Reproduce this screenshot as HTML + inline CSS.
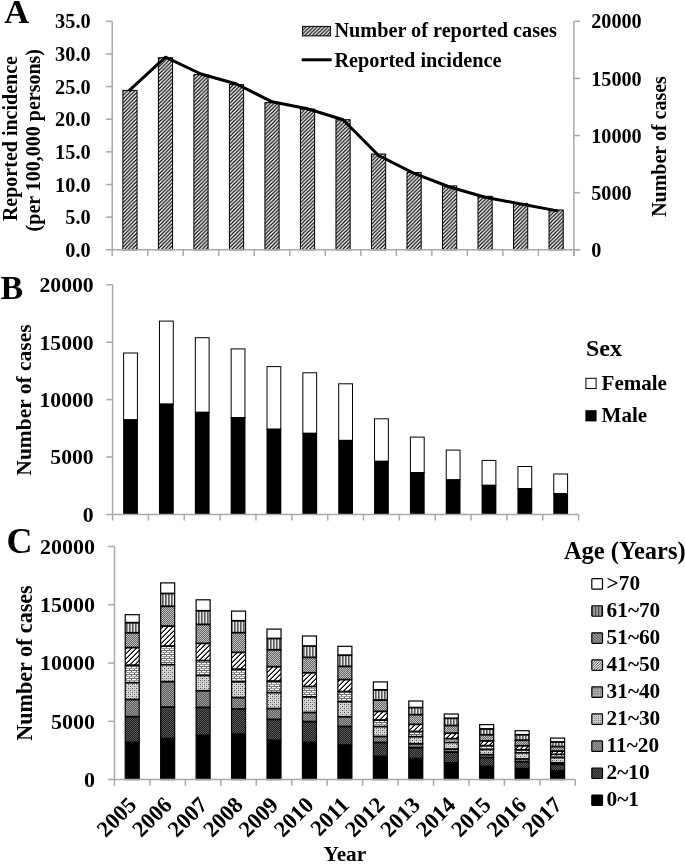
<!DOCTYPE html>
<html><head><meta charset="utf-8"><style>
html,body{margin:0;padding:0;background:#fff;width:685px;height:864px;overflow:hidden}
svg{display:block;filter:grayscale(1)}
text{font-family:"Liberation Serif", serif;font-weight:bold;fill:#000}
</style></head><body>
<svg width="685" height="864" viewBox="0 0 685 864">
<defs>
<pattern id="hatchA" patternUnits="userSpaceOnUse" width="3.7" height="3.7">
  <rect width="3.7" height="3.7" fill="#fff"/>
  <path d="M-1,1 L1,-1 M0,3.7 L3.7,0 M2.7,4.7 L4.7,2.7" stroke="#000" stroke-width="1.15"/>
</pattern>
<pattern id="p610" patternUnits="userSpaceOnUse" width="3" height="3"><rect width="3" height="3" fill="#909090"/><rect x="0" width="1" height="3" fill="#5a5a5a"/><rect x="2" width="1" height="3" fill="#e6e6e6"/></pattern>
<pattern id="p510" patternUnits="userSpaceOnUse" width="2" height="2">
  <rect width="2" height="2" fill="#666"/>
  <rect width="1" height="1" fill="#c0c0c0"/>
  <rect x="1" y="1" width="1" height="1" fill="#c0c0c0"/>
</pattern>
<pattern id="p410" patternUnits="userSpaceOnUse" width="5" height="5"><rect width="5" height="5" fill="#fff"/><rect x="0" y="3" width="1" height="1" fill="#6a6a6a"/><rect x="0" y="4" width="1" height="1" fill="#000"/><rect x="1" y="2" width="1" height="1" fill="#6a6a6a"/><rect x="1" y="3" width="1" height="1" fill="#000"/><rect x="2" y="1" width="1" height="1" fill="#6a6a6a"/><rect x="2" y="2" width="1" height="1" fill="#000"/><rect x="3" y="0" width="1" height="1" fill="#6a6a6a"/><rect x="3" y="1" width="1" height="1" fill="#000"/><rect x="4" y="0" width="1" height="1" fill="#000"/><rect x="4" y="4" width="1" height="1" fill="#6a6a6a"/></pattern>
<pattern id="p310" patternUnits="userSpaceOnUse" width="10" height="4"><rect width="10" height="4" fill="#707070"/><rect x="0" y="1" width="4" height="1" fill="#fff"/><rect x="5" y="1" width="4" height="1" fill="#fff"/><rect x="2" y="3" width="4" height="1" fill="#fff"/><rect x="7" y="3" width="3" height="1" fill="#fff"/><rect x="0" y="3" width="1" height="1" fill="#fff"/><rect x="0" y="0" width="10" height="1" fill="#9a9a9a"/></pattern>
<pattern id="p210" patternUnits="userSpaceOnUse" width="4" height="4"><rect width="4" height="4" fill="#d6d6d6"/><rect x="0" y="0" width="1" height="1" fill="#505050"/><rect x="2" y="2" width="1" height="1" fill="#505050"/><rect x="2" y="0" width="1" height="1" fill="#a8a8a8"/><rect x="0" y="2" width="1" height="1" fill="#a8a8a8"/></pattern>
<pattern id="p110" patternUnits="userSpaceOnUse" width="2" height="2">
  <rect width="2" height="2" fill="#5c5c5c"/>
  <rect width="1" height="1" fill="#9c9c9c"/>
  <rect x="1" y="1" width="1" height="1" fill="#9c9c9c"/>
</pattern>
<pattern id="p20" patternUnits="userSpaceOnUse" width="2" height="2">
  <rect width="2" height="2" fill="#1e1e1e"/>
  <rect width="1" height="1" fill="#5a5a5a"/>
  <rect x="1" y="1" width="1" height="1" fill="#5a5a5a"/>
</pattern>
<pattern id="L610" patternUnits="userSpaceOnUse" width="3.1" height="4" x="591.8">
  <rect width="3.1" height="4" fill="#9a9a9a"/>
  <rect x="0" width="1.1" height="4" fill="#4a4a4a"/>
</pattern>
<pattern id="L510" patternUnits="userSpaceOnUse" width="3" height="3">
  <rect width="3" height="3" fill="#909090"/>
  <path d="M-1,-1 L4,4 M-1,2 L1,4 M2,-1 L4,1" stroke="#606060" stroke-width="0.9"/>
</pattern>
<pattern id="L410" patternUnits="userSpaceOnUse" width="2.6" height="2.6">
  <rect width="2.6" height="2.6" fill="#f4f4f4"/>
  <path d="M-0.65,0.65 L0.65,-0.65 M0,2.6 L2.6,0 M1.95,3.25 L3.25,1.95" stroke="#222" stroke-width="0.85"/>
</pattern>
<pattern id="L310" patternUnits="userSpaceOnUse" width="2.6" height="2.6">
  <rect width="2.6" height="2.6" fill="#8c8c8c"/>
  <rect x="0.5" y="0.5" width="1.3" height="1.3" fill="#d8d8d8"/>
</pattern>
<pattern id="L210" patternUnits="userSpaceOnUse" width="2" height="2"><rect width="2" height="2" fill="#cdcdcd"/><rect width="1" height="1" fill="#8a8a8a"/></pattern>
<pattern id="L110" patternUnits="userSpaceOnUse" width="2" height="2">
  <rect width="2" height="2" fill="#6e6e6e"/>
  <rect width="1" height="1" fill="#999"/>
  <rect x="1" y="1" width="1" height="1" fill="#999"/>
</pattern>
<pattern id="L20" patternUnits="userSpaceOnUse" width="2" height="2"><rect width="2" height="2" fill="#2a2a2a"/><rect width="1" height="1" fill="#505050"/><rect x="1" y="1" width="1" height="1" fill="#505050"/></pattern>
</defs>
<rect x="122.86" y="90.4" width="14.2" height="159.4" fill="url(#hatchA)" stroke="#000" stroke-width="1"/>
<rect x="158.37" y="57.7" width="14.2" height="192.1" fill="url(#hatchA)" stroke="#000" stroke-width="1"/>
<rect x="193.89" y="74.6" width="14.2" height="175.2" fill="url(#hatchA)" stroke="#000" stroke-width="1"/>
<rect x="229.4" y="84.6" width="14.2" height="165.2" fill="url(#hatchA)" stroke="#000" stroke-width="1"/>
<rect x="264.92" y="102.6" width="14.2" height="147.2" fill="url(#hatchA)" stroke="#000" stroke-width="1"/>
<rect x="300.43" y="109.1" width="14.2" height="140.7" fill="url(#hatchA)" stroke="#000" stroke-width="1"/>
<rect x="335.95" y="119.7" width="14.2" height="130.1" fill="url(#hatchA)" stroke="#000" stroke-width="1"/>
<rect x="371.47" y="154" width="14.2" height="95.8" fill="url(#hatchA)" stroke="#000" stroke-width="1"/>
<rect x="406.98" y="172.6" width="14.2" height="77.2" fill="url(#hatchA)" stroke="#000" stroke-width="1"/>
<rect x="442.5" y="185.9" width="14.2" height="63.9" fill="url(#hatchA)" stroke="#000" stroke-width="1"/>
<rect x="478.01" y="196.3" width="14.2" height="53.5" fill="url(#hatchA)" stroke="#000" stroke-width="1"/>
<rect x="513.53" y="203.4" width="14.2" height="46.4" fill="url(#hatchA)" stroke="#000" stroke-width="1"/>
<rect x="549.04" y="210" width="14.2" height="39.8" fill="url(#hatchA)" stroke="#000" stroke-width="1"/>
<line x1="112.2" y1="21.3" x2="112.2" y2="256" stroke="#a9a9a9" stroke-width="1.5"/><line x1="105.9" y1="249.8" x2="580.1" y2="249.8" stroke="#a9a9a9" stroke-width="1.5"/><line x1="105.9" y1="21.3" x2="112.2" y2="21.3" stroke="#a9a9a9" stroke-width="1.5"/><line x1="105.9" y1="53.94" x2="112.2" y2="53.94" stroke="#a9a9a9" stroke-width="1.5"/><line x1="105.9" y1="86.59" x2="112.2" y2="86.59" stroke="#a9a9a9" stroke-width="1.5"/><line x1="105.9" y1="119.23" x2="112.2" y2="119.23" stroke="#a9a9a9" stroke-width="1.5"/><line x1="105.9" y1="151.87" x2="112.2" y2="151.87" stroke="#a9a9a9" stroke-width="1.5"/><line x1="105.9" y1="184.51" x2="112.2" y2="184.51" stroke="#a9a9a9" stroke-width="1.5"/><line x1="105.9" y1="217.16" x2="112.2" y2="217.16" stroke="#a9a9a9" stroke-width="1.5"/><line x1="147.72" y1="249.8" x2="147.72" y2="256" stroke="#a9a9a9" stroke-width="1.5"/><line x1="183.23" y1="249.8" x2="183.23" y2="256" stroke="#a9a9a9" stroke-width="1.5"/><line x1="218.75" y1="249.8" x2="218.75" y2="256" stroke="#a9a9a9" stroke-width="1.5"/><line x1="254.26" y1="249.8" x2="254.26" y2="256" stroke="#a9a9a9" stroke-width="1.5"/><line x1="289.78" y1="249.8" x2="289.78" y2="256" stroke="#a9a9a9" stroke-width="1.5"/><line x1="325.29" y1="249.8" x2="325.29" y2="256" stroke="#a9a9a9" stroke-width="1.5"/><line x1="360.81" y1="249.8" x2="360.81" y2="256" stroke="#a9a9a9" stroke-width="1.5"/><line x1="396.32" y1="249.8" x2="396.32" y2="256" stroke="#a9a9a9" stroke-width="1.5"/><line x1="431.84" y1="249.8" x2="431.84" y2="256" stroke="#a9a9a9" stroke-width="1.5"/><line x1="467.35" y1="249.8" x2="467.35" y2="256" stroke="#a9a9a9" stroke-width="1.5"/><line x1="502.87" y1="249.8" x2="502.87" y2="256" stroke="#a9a9a9" stroke-width="1.5"/><line x1="538.38" y1="249.8" x2="538.38" y2="256" stroke="#a9a9a9" stroke-width="1.5"/><line x1="573.9" y1="249.8" x2="573.9" y2="256" stroke="#a9a9a9" stroke-width="1.5"/><line x1="573.9" y1="21.3" x2="573.9" y2="256" stroke="#a9a9a9" stroke-width="1.5"/><line x1="573.9" y1="21.3" x2="580.1" y2="21.3" stroke="#a9a9a9" stroke-width="1.5"/><line x1="573.9" y1="78.42" x2="580.1" y2="78.42" stroke="#a9a9a9" stroke-width="1.5"/><line x1="573.9" y1="135.55" x2="580.1" y2="135.55" stroke="#a9a9a9" stroke-width="1.5"/><line x1="573.9" y1="192.68" x2="580.1" y2="192.68" stroke="#a9a9a9" stroke-width="1.5"/><line x1="573.9" y1="249.8" x2="580.1" y2="249.8" stroke="#a9a9a9" stroke-width="1.5"/>
<polyline points="129.96,89.9 165.47,57.2 200.99,74 236.5,84 272.02,101.8 307.53,108.8 343.05,119.8 378.57,155.5 414.08,173.3 449.6,187 485.11,197.2 520.63,204 556.14,210.6" fill="none" stroke="#000" stroke-width="3" stroke-linejoin="round" stroke-linecap="square"/>
<text x="90.6" y="28.4" font-size="20.3" text-anchor="end">35.0</text>
<text x="90.6" y="61.04" font-size="20.3" text-anchor="end">30.0</text>
<text x="90.6" y="93.69" font-size="20.3" text-anchor="end">25.0</text>
<text x="90.6" y="126.33" font-size="20.3" text-anchor="end">20.0</text>
<text x="90.6" y="158.97" font-size="20.3" text-anchor="end">15.0</text>
<text x="90.6" y="191.61" font-size="20.3" text-anchor="end">10.0</text>
<text x="90.6" y="224.26" font-size="20.3" text-anchor="end">5.0</text>
<text x="90.6" y="256.9" font-size="20.3" text-anchor="end">0.0</text>
<text x="591.2" y="28.4" font-size="20.2" text-anchor="start">20000</text>
<text x="591.2" y="85.52" font-size="20.2" text-anchor="start">15000</text>
<text x="591.2" y="142.65" font-size="20.2" text-anchor="start">10000</text>
<text x="591.2" y="199.78" font-size="20.2" text-anchor="start">5000</text>
<text x="591.2" y="256.9" font-size="20.2" text-anchor="start">0</text>
<text transform="translate(16.9,138.6) rotate(-90)" font-size="20" text-anchor="middle">Reported incidence</text>
<text transform="translate(39.7,140.2) rotate(-90)" font-size="20" text-anchor="middle">(per 100,000 persons)</text>
<text transform="translate(666.3,146.5) rotate(-90)" font-size="20" text-anchor="middle">Number of cases</text>
<rect x="302.6" y="26.4" width="27.8" height="9.5" fill="url(#hatchA)" stroke="#000" stroke-width="1"/>
<text x="334.4" y="37.3" font-size="20.25" text-anchor="start">Number of reported cases</text>
<line x1="301.7" y1="59.8" x2="331.6" y2="59.8" stroke="#000" stroke-width="3"/>
<text x="334.4" y="66.8" font-size="20.25" text-anchor="start">Reported incidence</text>
<text x="4.3" y="23.4" font-size="34.5" text-anchor="start">A</text>
<rect x="123.62" y="353" width="13.8" height="66.8" fill="#fff" stroke="#000" stroke-width="1"/>
<rect x="123.12" y="419.3" width="14.8" height="95.1" fill="#000"/>
<rect x="159.47" y="321.1" width="13.8" height="83" fill="#fff" stroke="#000" stroke-width="1"/>
<rect x="158.97" y="403.6" width="14.8" height="110.8" fill="#000"/>
<rect x="195.32" y="337.7" width="13.8" height="74.6" fill="#fff" stroke="#000" stroke-width="1"/>
<rect x="194.82" y="411.8" width="14.8" height="102.6" fill="#000"/>
<rect x="231.16" y="348.9" width="13.8" height="68.7" fill="#fff" stroke="#000" stroke-width="1"/>
<rect x="230.66" y="417.1" width="14.8" height="97.3" fill="#000"/>
<rect x="267.01" y="366.6" width="13.8" height="62.6" fill="#fff" stroke="#000" stroke-width="1"/>
<rect x="266.51" y="428.7" width="14.8" height="85.7" fill="#000"/>
<rect x="302.85" y="372.8" width="13.8" height="60.5" fill="#fff" stroke="#000" stroke-width="1"/>
<rect x="302.35" y="432.8" width="14.8" height="81.6" fill="#000"/>
<rect x="338.7" y="383.8" width="13.8" height="56.6" fill="#fff" stroke="#000" stroke-width="1"/>
<rect x="338.2" y="439.9" width="14.8" height="74.5" fill="#000"/>
<rect x="374.55" y="418.8" width="13.8" height="42.5" fill="#fff" stroke="#000" stroke-width="1"/>
<rect x="374.05" y="460.8" width="14.8" height="53.6" fill="#000"/>
<rect x="410.39" y="437.1" width="13.8" height="35.5" fill="#fff" stroke="#000" stroke-width="1"/>
<rect x="409.89" y="472.1" width="14.8" height="42.3" fill="#000"/>
<rect x="446.24" y="450.1" width="13.8" height="29.7" fill="#fff" stroke="#000" stroke-width="1"/>
<rect x="445.74" y="479.3" width="14.8" height="35.1" fill="#000"/>
<rect x="482.08" y="460.4" width="13.8" height="24.9" fill="#fff" stroke="#000" stroke-width="1"/>
<rect x="481.58" y="484.8" width="14.8" height="29.6" fill="#000"/>
<rect x="517.93" y="466.5" width="13.8" height="22.1" fill="#fff" stroke="#000" stroke-width="1"/>
<rect x="517.43" y="488.1" width="14.8" height="26.3" fill="#000"/>
<rect x="553.78" y="474" width="13.8" height="19.6" fill="#fff" stroke="#000" stroke-width="1"/>
<rect x="553.28" y="493.1" width="14.8" height="21.3" fill="#000"/>
<line x1="112.6" y1="284.8" x2="112.6" y2="520.6" stroke="#a9a9a9" stroke-width="1.5"/><line x1="106.3" y1="514.4" x2="578.6" y2="514.4" stroke="#a9a9a9" stroke-width="1.5"/><line x1="106.3" y1="284.8" x2="112.6" y2="284.8" stroke="#a9a9a9" stroke-width="1.5"/><line x1="106.3" y1="342.2" x2="112.6" y2="342.2" stroke="#a9a9a9" stroke-width="1.5"/><line x1="106.3" y1="399.6" x2="112.6" y2="399.6" stroke="#a9a9a9" stroke-width="1.5"/><line x1="106.3" y1="457" x2="112.6" y2="457" stroke="#a9a9a9" stroke-width="1.5"/><line x1="148.45" y1="514.4" x2="148.45" y2="520.6" stroke="#a9a9a9" stroke-width="1.5"/><line x1="184.29" y1="514.4" x2="184.29" y2="520.6" stroke="#a9a9a9" stroke-width="1.5"/><line x1="220.14" y1="514.4" x2="220.14" y2="520.6" stroke="#a9a9a9" stroke-width="1.5"/><line x1="255.98" y1="514.4" x2="255.98" y2="520.6" stroke="#a9a9a9" stroke-width="1.5"/><line x1="291.83" y1="514.4" x2="291.83" y2="520.6" stroke="#a9a9a9" stroke-width="1.5"/><line x1="327.68" y1="514.4" x2="327.68" y2="520.6" stroke="#a9a9a9" stroke-width="1.5"/><line x1="363.52" y1="514.4" x2="363.52" y2="520.6" stroke="#a9a9a9" stroke-width="1.5"/><line x1="399.37" y1="514.4" x2="399.37" y2="520.6" stroke="#a9a9a9" stroke-width="1.5"/><line x1="435.22" y1="514.4" x2="435.22" y2="520.6" stroke="#a9a9a9" stroke-width="1.5"/><line x1="471.06" y1="514.4" x2="471.06" y2="520.6" stroke="#a9a9a9" stroke-width="1.5"/><line x1="506.91" y1="514.4" x2="506.91" y2="520.6" stroke="#a9a9a9" stroke-width="1.5"/><line x1="542.75" y1="514.4" x2="542.75" y2="520.6" stroke="#a9a9a9" stroke-width="1.5"/><line x1="578.6" y1="514.4" x2="578.6" y2="520.6" stroke="#a9a9a9" stroke-width="1.5"/>
<text x="93.7" y="292.1" font-size="21.7" text-anchor="end">20000</text>
<text x="93.7" y="349.5" font-size="21.7" text-anchor="end">15000</text>
<text x="93.7" y="406.9" font-size="21.7" text-anchor="end">10000</text>
<text x="93.7" y="464.3" font-size="21.7" text-anchor="end">5000</text>
<text x="93.7" y="521.7" font-size="21.7" text-anchor="end">0</text>
<text transform="translate(31.1,400) rotate(-90)" font-size="21.5" text-anchor="middle">Number of cases</text>
<text x="586" y="356" font-size="24" text-anchor="start">Sex</text>
<rect x="585.9" y="378.3" width="10.2" height="10.2" fill="#fff" stroke="#000" stroke-width="1"/>
<text x="601.6" y="389.6" font-size="21" text-anchor="start">Female</text>
<rect x="585.4" y="410.2" width="11.2" height="11.2" fill="#000"/>
<text x="601.6" y="421.5" font-size="21" text-anchor="start">Male</text>
<text x="0.5" y="298.5" font-size="34" text-anchor="start">B</text>
<rect x="125.22" y="614.7" width="14" height="7.7" fill="#fff" stroke="#000" stroke-width="1.2"/>
<rect x="125.22" y="623" width="14" height="9.5" fill="url(#p610)" stroke="#000" stroke-width="1.2"/>
<rect x="125.22" y="633.1" width="14" height="14.2" fill="url(#p510)" stroke="#000" stroke-width="1.2"/>
<rect x="125.22" y="647.9" width="14" height="17" fill="url(#p410)" stroke="#000" stroke-width="1.2"/>
<rect x="125.22" y="665.5" width="14" height="16.9" fill="url(#p310)" stroke="#000" stroke-width="1.2"/>
<rect x="125.22" y="683" width="14" height="16.2" fill="url(#p210)" stroke="#000" stroke-width="1.2"/>
<rect x="125.22" y="699.8" width="14" height="16.6" fill="url(#p110)" stroke="#000" stroke-width="1.2"/>
<rect x="125.22" y="717" width="14" height="25.1" fill="url(#p20)" stroke="#000" stroke-width="1.2"/>
<rect x="125.22" y="742.7" width="14" height="36.9" fill="#000" stroke="#000" stroke-width="1.2"/>
<rect x="160.67" y="582.9" width="14" height="10.3" fill="#fff" stroke="#000" stroke-width="1.2"/>
<rect x="160.67" y="593.8" width="14" height="12.2" fill="url(#p610)" stroke="#000" stroke-width="1.2"/>
<rect x="160.67" y="606.6" width="14" height="19.2" fill="url(#p510)" stroke="#000" stroke-width="1.2"/>
<rect x="160.67" y="626.4" width="14" height="19.4" fill="url(#p410)" stroke="#000" stroke-width="1.2"/>
<rect x="160.67" y="646.4" width="14" height="18" fill="url(#p310)" stroke="#000" stroke-width="1.2"/>
<rect x="160.67" y="665" width="14" height="16.4" fill="url(#p210)" stroke="#000" stroke-width="1.2"/>
<rect x="160.67" y="682" width="14" height="24.8" fill="url(#p110)" stroke="#000" stroke-width="1.2"/>
<rect x="160.67" y="707.4" width="14" height="30.9" fill="url(#p20)" stroke="#000" stroke-width="1.2"/>
<rect x="160.67" y="738.9" width="14" height="40.7" fill="#000" stroke="#000" stroke-width="1.2"/>
<rect x="196.12" y="599.8" width="14" height="10.7" fill="#fff" stroke="#000" stroke-width="1.2"/>
<rect x="196.12" y="611.1" width="14" height="13" fill="url(#p610)" stroke="#000" stroke-width="1.2"/>
<rect x="196.12" y="624.7" width="14" height="18.4" fill="url(#p510)" stroke="#000" stroke-width="1.2"/>
<rect x="196.12" y="643.7" width="14" height="16.6" fill="url(#p410)" stroke="#000" stroke-width="1.2"/>
<rect x="196.12" y="660.9" width="14" height="14.3" fill="url(#p310)" stroke="#000" stroke-width="1.2"/>
<rect x="196.12" y="675.8" width="14" height="14.7" fill="url(#p210)" stroke="#000" stroke-width="1.2"/>
<rect x="196.12" y="691.1" width="14" height="16" fill="url(#p110)" stroke="#000" stroke-width="1.2"/>
<rect x="196.12" y="707.7" width="14" height="27.4" fill="url(#p20)" stroke="#000" stroke-width="1.2"/>
<rect x="196.12" y="735.7" width="14" height="43.9" fill="#000" stroke="#000" stroke-width="1.2"/>
<rect x="231.56" y="611.1" width="14" height="9.4" fill="#fff" stroke="#000" stroke-width="1.2"/>
<rect x="231.56" y="621.1" width="14" height="11.3" fill="url(#p610)" stroke="#000" stroke-width="1.2"/>
<rect x="231.56" y="633" width="14" height="19.1" fill="url(#p510)" stroke="#000" stroke-width="1.2"/>
<rect x="231.56" y="652.7" width="14" height="16.2" fill="url(#p410)" stroke="#000" stroke-width="1.2"/>
<rect x="231.56" y="669.5" width="14" height="12" fill="url(#p310)" stroke="#000" stroke-width="1.2"/>
<rect x="231.56" y="682.1" width="14" height="15.2" fill="url(#p210)" stroke="#000" stroke-width="1.2"/>
<rect x="231.56" y="697.9" width="14" height="10.8" fill="url(#p110)" stroke="#000" stroke-width="1.2"/>
<rect x="231.56" y="709.3" width="14" height="24.5" fill="url(#p20)" stroke="#000" stroke-width="1.2"/>
<rect x="231.56" y="734.4" width="14" height="45.2" fill="#000" stroke="#000" stroke-width="1.2"/>
<rect x="267.01" y="629.1" width="14" height="9.1" fill="#fff" stroke="#000" stroke-width="1.2"/>
<rect x="267.01" y="638.8" width="14" height="10.7" fill="url(#p610)" stroke="#000" stroke-width="1.2"/>
<rect x="267.01" y="650.1" width="14" height="16.3" fill="url(#p510)" stroke="#000" stroke-width="1.2"/>
<rect x="267.01" y="667" width="14" height="13.8" fill="url(#p410)" stroke="#000" stroke-width="1.2"/>
<rect x="267.01" y="681.4" width="14" height="10.9" fill="url(#p310)" stroke="#000" stroke-width="1.2"/>
<rect x="267.01" y="692.9" width="14" height="15.4" fill="url(#p210)" stroke="#000" stroke-width="1.2"/>
<rect x="267.01" y="708.9" width="14" height="10.2" fill="url(#p110)" stroke="#000" stroke-width="1.2"/>
<rect x="267.01" y="719.7" width="14" height="20.4" fill="url(#p20)" stroke="#000" stroke-width="1.2"/>
<rect x="267.01" y="740.7" width="14" height="38.9" fill="#000" stroke="#000" stroke-width="1.2"/>
<rect x="302.45" y="636" width="14" height="9.8" fill="#fff" stroke="#000" stroke-width="1.2"/>
<rect x="302.45" y="646.4" width="14" height="10.7" fill="url(#p610)" stroke="#000" stroke-width="1.2"/>
<rect x="302.45" y="657.7" width="14" height="14.8" fill="url(#p510)" stroke="#000" stroke-width="1.2"/>
<rect x="302.45" y="673.1" width="14" height="13.1" fill="url(#p410)" stroke="#000" stroke-width="1.2"/>
<rect x="302.45" y="686.8" width="14" height="9.8" fill="url(#p310)" stroke="#000" stroke-width="1.2"/>
<rect x="302.45" y="697.2" width="14" height="15" fill="url(#p210)" stroke="#000" stroke-width="1.2"/>
<rect x="302.45" y="712.8" width="14" height="8.5" fill="url(#p110)" stroke="#000" stroke-width="1.2"/>
<rect x="302.45" y="721.9" width="14" height="20.2" fill="url(#p20)" stroke="#000" stroke-width="1.2"/>
<rect x="302.45" y="742.7" width="14" height="36.9" fill="#000" stroke="#000" stroke-width="1.2"/>
<rect x="337.9" y="646.3" width="14" height="8.6" fill="#fff" stroke="#000" stroke-width="1.2"/>
<rect x="337.9" y="655.5" width="14" height="10.6" fill="url(#p610)" stroke="#000" stroke-width="1.2"/>
<rect x="337.9" y="666.7" width="14" height="12.6" fill="url(#p510)" stroke="#000" stroke-width="1.2"/>
<rect x="337.9" y="679.9" width="14" height="11.4" fill="url(#p410)" stroke="#000" stroke-width="1.2"/>
<rect x="337.9" y="691.9" width="14" height="9.5" fill="url(#p310)" stroke="#000" stroke-width="1.2"/>
<rect x="337.9" y="702" width="14" height="14.5" fill="url(#p210)" stroke="#000" stroke-width="1.2"/>
<rect x="337.9" y="717.1" width="14" height="9.1" fill="url(#p110)" stroke="#000" stroke-width="1.2"/>
<rect x="337.9" y="726.8" width="14" height="18" fill="url(#p20)" stroke="#000" stroke-width="1.2"/>
<rect x="337.9" y="745.4" width="14" height="34.2" fill="#000" stroke="#000" stroke-width="1.2"/>
<rect x="373.35" y="681.9" width="14" height="7.7" fill="#fff" stroke="#000" stroke-width="1.2"/>
<rect x="373.35" y="690.2" width="14" height="9.6" fill="url(#p610)" stroke="#000" stroke-width="1.2"/>
<rect x="373.35" y="700.4" width="14" height="10.7" fill="url(#p510)" stroke="#000" stroke-width="1.2"/>
<rect x="373.35" y="711.7" width="14" height="8.1" fill="url(#p410)" stroke="#000" stroke-width="1.2"/>
<rect x="373.35" y="720.4" width="14" height="5.9" fill="url(#p310)" stroke="#000" stroke-width="1.2"/>
<rect x="373.35" y="726.9" width="14" height="9.3" fill="url(#p210)" stroke="#000" stroke-width="1.2"/>
<rect x="373.35" y="736.8" width="14" height="5.4" fill="url(#p110)" stroke="#000" stroke-width="1.2"/>
<rect x="373.35" y="742.8" width="14" height="13.3" fill="url(#p20)" stroke="#000" stroke-width="1.2"/>
<rect x="373.35" y="756.7" width="14" height="22.9" fill="#000" stroke="#000" stroke-width="1.2"/>
<rect x="408.79" y="701" width="14" height="6.3" fill="#fff" stroke="#000" stroke-width="1.2"/>
<rect x="408.79" y="707.9" width="14" height="6.5" fill="url(#p610)" stroke="#000" stroke-width="1.2"/>
<rect x="408.79" y="715" width="14" height="9.1" fill="url(#p510)" stroke="#000" stroke-width="1.2"/>
<rect x="408.79" y="724.7" width="14" height="6.5" fill="url(#p410)" stroke="#000" stroke-width="1.2"/>
<rect x="408.79" y="731.8" width="14" height="4.6" fill="url(#p310)" stroke="#000" stroke-width="1.2"/>
<rect x="408.79" y="737" width="14" height="6.5" fill="url(#p210)" stroke="#000" stroke-width="1.2"/>
<rect x="408.79" y="744.1" width="14" height="3.3" fill="url(#p110)" stroke="#000" stroke-width="1.2"/>
<rect x="408.79" y="748" width="14" height="10.2" fill="url(#p20)" stroke="#000" stroke-width="1.2"/>
<rect x="408.79" y="758.8" width="14" height="20.8" fill="#000" stroke="#000" stroke-width="1.2"/>
<rect x="444.24" y="714" width="14" height="4" fill="#fff" stroke="#000" stroke-width="1.2"/>
<rect x="444.24" y="718.6" width="14" height="6.6" fill="url(#p610)" stroke="#000" stroke-width="1.2"/>
<rect x="444.24" y="725.8" width="14" height="7.1" fill="url(#p510)" stroke="#000" stroke-width="1.2"/>
<rect x="444.24" y="733.5" width="14" height="4.9" fill="url(#p410)" stroke="#000" stroke-width="1.2"/>
<rect x="444.24" y="739" width="14" height="3.2" fill="url(#p310)" stroke="#000" stroke-width="1.2"/>
<rect x="444.24" y="742.8" width="14" height="6" fill="url(#p210)" stroke="#000" stroke-width="1.2"/>
<rect x="444.24" y="749.4" width="14" height="2.4" fill="url(#p110)" stroke="#000" stroke-width="1.2"/>
<rect x="444.24" y="752.4" width="14" height="10.2" fill="url(#p20)" stroke="#000" stroke-width="1.2"/>
<rect x="444.24" y="763.2" width="14" height="16.4" fill="#000" stroke="#000" stroke-width="1.2"/>
<rect x="479.68" y="724.6" width="14" height="4.1" fill="#fff" stroke="#000" stroke-width="1.2"/>
<rect x="479.68" y="729.3" width="14" height="5.2" fill="url(#p610)" stroke="#000" stroke-width="1.2"/>
<rect x="479.68" y="735.1" width="14" height="5.5" fill="url(#p510)" stroke="#000" stroke-width="1.2"/>
<rect x="479.68" y="741.2" width="14" height="4.1" fill="url(#p410)" stroke="#000" stroke-width="1.2"/>
<rect x="479.68" y="745.9" width="14" height="3.3" fill="url(#p310)" stroke="#000" stroke-width="1.2"/>
<rect x="479.68" y="749.8" width="14" height="4.6" fill="url(#p210)" stroke="#000" stroke-width="1.2"/>
<rect x="479.68" y="755" width="14" height="2.2" fill="url(#p110)" stroke="#000" stroke-width="1.2"/>
<rect x="479.68" y="757.8" width="14" height="8.3" fill="url(#p20)" stroke="#000" stroke-width="1.2"/>
<rect x="479.68" y="766.7" width="14" height="12.9" fill="#000" stroke="#000" stroke-width="1.2"/>
<rect x="515.13" y="730.7" width="14" height="3.8" fill="#fff" stroke="#000" stroke-width="1.2"/>
<rect x="515.13" y="735.1" width="14" height="4.8" fill="url(#p610)" stroke="#000" stroke-width="1.2"/>
<rect x="515.13" y="740.5" width="14" height="5" fill="url(#p510)" stroke="#000" stroke-width="1.2"/>
<rect x="515.13" y="746.1" width="14" height="3.4" fill="url(#p410)" stroke="#000" stroke-width="1.2"/>
<rect x="515.13" y="750.1" width="14" height="2.4" fill="url(#p310)" stroke="#000" stroke-width="1.2"/>
<rect x="515.13" y="753.1" width="14" height="5.5" fill="url(#p210)" stroke="#000" stroke-width="1.2"/>
<rect x="515.13" y="759.2" width="14" height="2.2" fill="url(#p110)" stroke="#000" stroke-width="1.2"/>
<rect x="515.13" y="762" width="14" height="6.4" fill="url(#p20)" stroke="#000" stroke-width="1.2"/>
<rect x="515.13" y="769" width="14" height="10.6" fill="#000" stroke="#000" stroke-width="1.2"/>
<rect x="550.58" y="738.1" width="14" height="3.6" fill="#fff" stroke="#000" stroke-width="1.2"/>
<rect x="550.58" y="742.3" width="14" height="4" fill="url(#p610)" stroke="#000" stroke-width="1.2"/>
<rect x="550.58" y="746.9" width="14" height="3.9" fill="url(#p510)" stroke="#000" stroke-width="1.2"/>
<rect x="550.58" y="751.4" width="14" height="2.7" fill="url(#p410)" stroke="#000" stroke-width="1.2"/>
<rect x="550.58" y="754.7" width="14" height="2.5" fill="url(#p310)" stroke="#000" stroke-width="1.2"/>
<rect x="550.58" y="757.8" width="14" height="4.7" fill="url(#p210)" stroke="#000" stroke-width="1.2"/>
<rect x="550.58" y="763.1" width="14" height="1" fill="url(#p110)" stroke="#000" stroke-width="1.2"/>
<rect x="550.58" y="764.7" width="14" height="5.8" fill="url(#p20)" stroke="#000" stroke-width="1.2"/>
<rect x="550.58" y="771.1" width="14" height="8.5" fill="#000" stroke="#000" stroke-width="1.2"/>
<line x1="114.5" y1="546.5" x2="114.5" y2="785.8" stroke="#a9a9a9" stroke-width="1.5"/><line x1="108.2" y1="779.6" x2="575.3" y2="779.6" stroke="#a9a9a9" stroke-width="1.5"/><line x1="108.2" y1="546.5" x2="114.5" y2="546.5" stroke="#a9a9a9" stroke-width="1.5"/><line x1="108.2" y1="604.77" x2="114.5" y2="604.77" stroke="#a9a9a9" stroke-width="1.5"/><line x1="108.2" y1="663.05" x2="114.5" y2="663.05" stroke="#a9a9a9" stroke-width="1.5"/><line x1="108.2" y1="721.33" x2="114.5" y2="721.33" stroke="#a9a9a9" stroke-width="1.5"/><line x1="149.95" y1="779.6" x2="149.95" y2="785.8" stroke="#a9a9a9" stroke-width="1.5"/><line x1="185.39" y1="779.6" x2="185.39" y2="785.8" stroke="#a9a9a9" stroke-width="1.5"/><line x1="220.84" y1="779.6" x2="220.84" y2="785.8" stroke="#a9a9a9" stroke-width="1.5"/><line x1="256.28" y1="779.6" x2="256.28" y2="785.8" stroke="#a9a9a9" stroke-width="1.5"/><line x1="291.73" y1="779.6" x2="291.73" y2="785.8" stroke="#a9a9a9" stroke-width="1.5"/><line x1="327.18" y1="779.6" x2="327.18" y2="785.8" stroke="#a9a9a9" stroke-width="1.5"/><line x1="362.62" y1="779.6" x2="362.62" y2="785.8" stroke="#a9a9a9" stroke-width="1.5"/><line x1="398.07" y1="779.6" x2="398.07" y2="785.8" stroke="#a9a9a9" stroke-width="1.5"/><line x1="433.52" y1="779.6" x2="433.52" y2="785.8" stroke="#a9a9a9" stroke-width="1.5"/><line x1="468.96" y1="779.6" x2="468.96" y2="785.8" stroke="#a9a9a9" stroke-width="1.5"/><line x1="504.41" y1="779.6" x2="504.41" y2="785.8" stroke="#a9a9a9" stroke-width="1.5"/><line x1="539.85" y1="779.6" x2="539.85" y2="785.8" stroke="#a9a9a9" stroke-width="1.5"/><line x1="575.3" y1="779.6" x2="575.3" y2="785.8" stroke="#a9a9a9" stroke-width="1.5"/>
<text x="95.1" y="553.8" font-size="22" text-anchor="end">20000</text>
<text x="95.1" y="612.07" font-size="22" text-anchor="end">15000</text>
<text x="95.1" y="670.35" font-size="22" text-anchor="end">10000</text>
<text x="95.1" y="728.62" font-size="22" text-anchor="end">5000</text>
<text x="95.1" y="786.9" font-size="22" text-anchor="end">0</text>
<text transform="translate(31.9,663) rotate(-90)" font-size="22.1" text-anchor="middle">Number of cases</text>
<text transform="translate(137.82,806.2) rotate(-45)" font-size="22.6" text-anchor="end">2005</text>
<text transform="translate(173.27,806.2) rotate(-45)" font-size="22.6" text-anchor="end">2006</text>
<text transform="translate(208.72,806.2) rotate(-45)" font-size="22.6" text-anchor="end">2007</text>
<text transform="translate(244.16,806.2) rotate(-45)" font-size="22.6" text-anchor="end">2008</text>
<text transform="translate(279.61,806.2) rotate(-45)" font-size="22.6" text-anchor="end">2009</text>
<text transform="translate(315.05,806.2) rotate(-45)" font-size="22.6" text-anchor="end">2010</text>
<text transform="translate(350.5,806.2) rotate(-45)" font-size="22.6" text-anchor="end">2011</text>
<text transform="translate(385.95,806.2) rotate(-45)" font-size="22.6" text-anchor="end">2012</text>
<text transform="translate(421.39,806.2) rotate(-45)" font-size="22.6" text-anchor="end">2013</text>
<text transform="translate(456.84,806.2) rotate(-45)" font-size="22.6" text-anchor="end">2014</text>
<text transform="translate(492.28,806.2) rotate(-45)" font-size="22.6" text-anchor="end">2015</text>
<text transform="translate(527.73,806.2) rotate(-45)" font-size="22.6" text-anchor="end">2016</text>
<text transform="translate(563.18,806.2) rotate(-45)" font-size="22.6" text-anchor="end">2017</text>
<text x="344.9" y="860.9" font-size="21.3" text-anchor="middle">Year</text>
<text x="563.9" y="559.1" font-size="24.5" text-anchor="start">Age (Years)</text>
<rect x="591.8" y="578.7" width="10.7" height="10.5" rx="0.8" fill="#fff" stroke="#000" stroke-width="1.2"/>
<text x="606.6" y="590.1" font-size="21.3" text-anchor="start">&gt;70</text>
<rect x="591.8" y="605.74" width="10.7" height="10.5" rx="0.8" fill="url(#L610)" stroke="#000" stroke-width="1.2"/>
<text x="606.6" y="617.14" font-size="21.3" text-anchor="start">61~70</text>
<rect x="591.8" y="632.78" width="10.7" height="10.5" rx="0.8" fill="url(#L510)" stroke="#000" stroke-width="1.2"/>
<text x="606.6" y="644.18" font-size="21.3" text-anchor="start">51~60</text>
<rect x="591.8" y="659.82" width="10.7" height="10.5" rx="0.8" fill="url(#L410)" stroke="#000" stroke-width="1.2"/>
<text x="606.6" y="671.22" font-size="21.3" text-anchor="start">41~50</text>
<rect x="591.8" y="686.86" width="10.7" height="10.5" rx="0.8" fill="url(#L310)" stroke="#000" stroke-width="1.2"/>
<text x="606.6" y="698.26" font-size="21.3" text-anchor="start">31~40</text>
<rect x="591.8" y="713.9" width="10.7" height="10.5" rx="0.8" fill="url(#L210)" stroke="#000" stroke-width="1.2"/>
<text x="606.6" y="725.3" font-size="21.3" text-anchor="start">21~30</text>
<rect x="591.8" y="740.94" width="10.7" height="10.5" rx="0.8" fill="url(#L110)" stroke="#000" stroke-width="1.2"/>
<text x="606.6" y="752.34" font-size="21.3" text-anchor="start">11~20</text>
<rect x="591.8" y="767.98" width="10.7" height="10.5" rx="0.8" fill="url(#L20)" stroke="#000" stroke-width="1.2"/>
<text x="606.6" y="779.38" font-size="21.3" text-anchor="start">2~10</text>
<rect x="591.8" y="795.02" width="10.7" height="10.5" rx="0.8" fill="#000" stroke="#000" stroke-width="1.2"/>
<text x="606.6" y="806.42" font-size="21.3" text-anchor="start">0~1</text>
<text x="6.5" y="553.2" font-size="36" text-anchor="start">C</text>
</svg>
</body></html>
